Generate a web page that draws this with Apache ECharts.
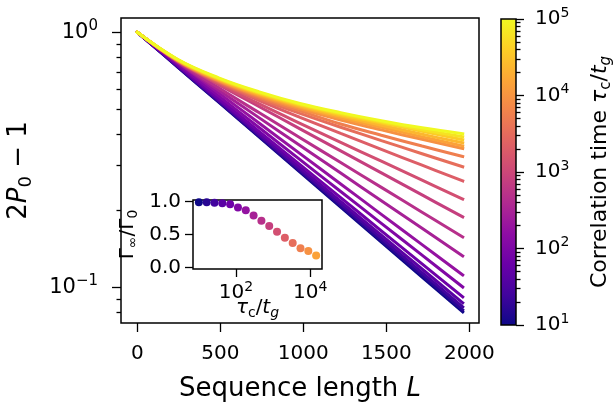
<!DOCTYPE html>
<html><head><meta charset="utf-8">
<script src="https://cdn.jsdelivr.net/npm/echarts@6/dist/echarts.min.js"></script>
<style>html,body{margin:0;padding:0;background:#fff}#c{width:613px;height:405px}</style>
</head><body><div id="c"></div>
<script>
// Sequence lengths at which each curve was read
const seqLength = [0, 245, 490, 735, 980, 1225, 1470, 1715, 1960];
// Correlation times tau_c/t_g (one curve each)
const corrTime = [10, 16.24, 26.37, 42.81, 69.52, 112.9, 183.3, 297.6, 483.3, 784.8,
  1274, 2069, 3360, 5456, 8859, 14384, 23357, 37927, 61585, 100000];
// 2P0-1 for each correlation time, read at seqLength
const decay = [
  [1, 0.7293, 0.5318, 0.3878, 0.2828, 0.2063, 0.1504, 0.1097, 0.0800],
  [1, 0.7310, 0.5343, 0.3905, 0.2855, 0.2086, 0.1525, 0.1115, 0.0815],
  [1, 0.7335, 0.5379, 0.3946, 0.2894, 0.2123, 0.1557, 0.1142, 0.0837],
  [1, 0.7369, 0.5429, 0.4001, 0.2948, 0.2172, 0.1600, 0.1179, 0.0869],
  [1, 0.7417, 0.5501, 0.4081, 0.3027, 0.2245, 0.1665, 0.1235, 0.0916],
  [1, 0.7501, 0.5626, 0.4221, 0.3166, 0.2375, 0.1781, 0.1336, 0.1002],
  [1, 0.7603, 0.5781, 0.4396, 0.3342, 0.2541, 0.1932, 0.1469, 0.1117],
  [1, 0.7617, 0.5927, 0.4617, 0.3598, 0.2804, 0.2185, 0.1703, 0.1327],
  [1, 0.7645, 0.6056, 0.4832, 0.3859, 0.3084, 0.2465, 0.1970, 0.1574],
  [1, 0.7675, 0.6230, 0.5105, 0.4182, 0.3427, 0.2809, 0.2302, 0.1887],
  [1, 0.7700, 0.6280, 0.5237, 0.4397, 0.3703, 0.3121, 0.2631, 0.2218],
  [1, 0.7715, 0.6340, 0.5401, 0.4642, 0.4011, 0.3474, 0.3011, 0.2612],
  [1, 0.7725, 0.6390, 0.5480, 0.4811, 0.4244, 0.3761, 0.3340, 0.2968],
  [1, 0.7735, 0.6430, 0.5560, 0.4920, 0.4367, 0.3946, 0.3580, 0.3257],
  [1, 0.7745, 0.6460, 0.5620, 0.5010, 0.4532, 0.4142, 0.3804, 0.3502],
  [1, 0.7760, 0.6500, 0.5670, 0.5080, 0.4620, 0.4240, 0.3890, 0.3585],
  [1, 0.7780, 0.6540, 0.5720, 0.5130, 0.4690, 0.4320, 0.3980, 0.3686],
  [1, 0.7790, 0.6570, 0.5760, 0.5180, 0.4750, 0.4410, 0.4090, 0.3790],
  [1, 0.7805, 0.6600, 0.5800, 0.5220, 0.4800, 0.4460, 0.4150, 0.3897],
  [1, 0.7820, 0.6630, 0.5840, 0.5260, 0.4840, 0.4500, 0.4220, 0.4000]
];
// Inset: Gamma_inf / Gamma_0 for the first 16 correlation times
const insetTau = [10, 16.24, 26.37, 42.81, 69.52, 112.9, 183.3, 297.6, 483.3, 784.8,
  1274, 2069, 3360, 5456, 8859, 14384];
const rateRatio = [0.99, 0.99, 0.985, 0.975, 0.96, 0.91, 0.87, 0.79, 0.71, 0.63,
  0.54, 0.45, 0.37, 0.29, 0.25, 0.18];
// Tick values
const xTicks = [0, 500, 1000, 1500, 2000];
const yMajor = [0.1, 1];
const yMinor = [0.08, 0.09, 0.2, 0.3, 0.4, 0.5, 0.6, 0.7, 0.8, 0.9];
const insetXTicks = [100, 10000];
const insetYTicks = [0, 0.5, 1];
const cbMajor = [10, 100, 1000, 10000, 100000];
const cbMinor = [20,30,40,50,60,70,80,90,200,300,400,500,600,700,800,900,
  2000,3000,4000,5000,6000,7000,8000,9000,20000,30000,40000,50000,60000,70000,80000,90000];

const plasmaStops = ['#0d0887','#41049d','#6a00a8','#8f0da4','#b12a90','#cc4778',
  '#e16462','#f2844b','#fca636','#fcce25','#f0f921'];
function hexRgb(h){return [1,3,5].map(i=>parseInt(h.substr(i,2),16));}
function plasma(f){
  f = Math.max(0, Math.min(1, f));
  const p = f * 10, i = Math.min(9, Math.floor(p)), t = p - i;
  const a = hexRgb(plasmaStops[i]), b = hexRgb(plasmaStops[i+1]);
  return 'rgb(' + a.map((v,k)=>Math.round(v + (b[k]-v)*t)).join(',') + ')';
}
const tauColor = t => plasma((Math.log10(t) - 1) / 4);

const FF = 'DejaVu Sans';
const K = '#000';
function supRich(base, lh){
  return { b:{fontSize:base, fontFamily:FF, color:K, lineHeight:lh},
           s:{fontSize:Math.round(base*0.7), fontFamily:FF, color:K, lineHeight:Math.round(base*0.7), verticalAlign:'top'} };
}
function nameRich(base){
  const sf = Math.round(base*0.7);
  return { i:{fontSize:base, fontFamily:FF, fontStyle:'italic', color:K},
           sub:{fontSize:sf, fontFamily:FF, color:K, lineHeight:sf, verticalAlign:'bottom'},
           isub:{fontSize:sf, fontFamily:FF, fontStyle:'italic', color:K, lineHeight:sf, verticalAlign:'bottom'} };
}
const powLabel = v => '{b|10}{s|' + String(Math.round(Math.log10(v))).replace('-', '\u2212') + '}';
const tickStyle = (len) => ({show:true, length:len, lineStyle:{color:K, width:1.3}});
const noLine = {show:false, onZero:false};

const lineSeries = corrTime.map((t, i) => ({
  type:'line', xAxisIndex:0, yAxisIndex:0, z:2,
  data: seqLength.map((L, j) => [L, decay[i][j]]),
  smooth:0.4, symbol:'none', silent:true,
  lineStyle:{color:tauColor(t), width:3, cap:'square'}
}));

const option = {
  animation:false,
  backgroundColor:'#fff',
  grid:[
    {left:121, top:18, width:358, height:305, show:true, borderColor:K, borderWidth:1.5,
     backgroundColor:'transparent', outerBoundsMode:'none', containLabel:false},
    {left:193, top:200, width:129, height:69, show:true, borderColor:K, borderWidth:1.5,
     backgroundColor:'#fff', z:10, outerBoundsMode:'none', containLabel:false},
    {left:501, top:19, width:15, height:306, show:true, borderColor:K, borderWidth:1.5,
     outerBoundsMode:'none', containLabel:false,
     backgroundColor:{type:'linear', x:0, y:1, x2:0, y2:0,
       colorStops: plasmaStops.map((c,i)=>({offset:i/10, color:c}))}}
  ],
  xAxis:[
    {type:'value', gridIndex:0, min:-98, max:2058,
     axisLine:noLine, splitLine:{show:false},
     axisTick:Object.assign(tickStyle(9), {customValues:xTicks}),
     axisLabel:{customValues:xTicks, formatter:v=>String(v), margin:21, fontSize:20, fontFamily:FF, color:K},
     name:'Sequence length {i|L}', nameLocation:'middle', nameGap:53, nameMoveOverlap:false,
     nameTextStyle:{fontSize:26, fontFamily:FF, color:K, rich:nameRich(26)}},
    {type:'log', gridIndex:1, min:6.95, max:20700, z:11,
     axisLine:noLine, splitLine:{show:false},
     axisTick:Object.assign(tickStyle(8), {customValues:insetXTicks}),
     axisLabel:{customValues:insetXTicks, formatter:powLabel, margin:11, rich:supRich(20, 26)},
     name:'{i|τ}{sub|c}/{i|t}{isub|g}', nameLocation:'middle', nameGap:26, nameMoveOverlap:false,
     nameTextStyle:{fontSize:20, fontFamily:FF, color:K, lineHeight:25, rich:nameRich(20)}},
    {type:'value', gridIndex:2, min:0, max:1, show:false}
  ],
  yAxis:[
    {type:'log', gridIndex:0, min:0.0724, max:1.138, position:'left',
     axisLine:noLine, splitLine:{show:false},
     axisTick:Object.assign(tickStyle(9), {customValues:yMajor}),
     axisLabel:{customValues:yMajor, formatter:powLabel, margin:23, rich:supRich(21, 27)},
     name:'2{i|P}{sub|0} \u2212 1', nameLocation:'middle', nameGap:86, nameRotate:90, nameMoveOverlap:false,
     nameTextStyle:{fontSize:26, fontFamily:FF, color:K, lineHeight:32, rich:nameRich(26)}},
    {type:'log', gridIndex:0, min:0.0724, max:1.138, position:'left',
     axisLine:noLine, splitLine:{show:false}, axisLabel:{show:false},
     axisTick:Object.assign(tickStyle(4.5), {customValues:yMinor})},
    {type:'value', gridIndex:1, min:-0.025, max:1.025, position:'left', z:11,
     axisLine:noLine, splitLine:{show:false},
     axisTick:Object.assign(tickStyle(8), {customValues:insetYTicks}),
     axisLabel:{customValues:insetYTicks, formatter:v=>v.toFixed(1), margin:12, fontSize:20, fontFamily:FF, color:K},
     name:'Γ{sub|∞}/Γ{sub|0}', nameLocation:'middle', nameGap:53, nameRotate:90, nameMoveOverlap:false,
     nameTextStyle:{fontSize:20, fontFamily:FF, color:K, lineHeight:25, rich:nameRich(20)}},
    {type:'log', gridIndex:2, min:10, max:100000, position:'right',
     axisLine:noLine, splitLine:{show:false},
     axisTick:Object.assign(tickStyle(8), {customValues:cbMajor}),
     axisLabel:{customValues:cbMajor, formatter:powLabel, margin:19, rich:supRich(20, 26)},
     name:'Correlation time {i|τ}{sub|c}/{i|t}{isub|g}', nameLocation:'middle', nameGap:70, nameRotate:90, nameMoveOverlap:false,
     nameTextStyle:{fontSize:22, fontFamily:FF, color:K, lineHeight:28, rich:nameRich(22)}},
    {type:'log', gridIndex:2, min:10, max:100000, position:'right',
     axisLine:noLine, splitLine:{show:false}, axisLabel:{show:false},
     axisTick:Object.assign(tickStyle(4.5), {customValues:cbMinor})}
  ],
  series: lineSeries.concat([{
    type:'scatter', xAxisIndex:1, yAxisIndex:2, z:12, silent:true,
    symbol:'circle', symbolSize:8,
    data: insetTau.map((t,i)=>({value:[t, rateRatio[i]], itemStyle:{color:tauColor(t), opacity:1}}))
  }])
};
const chart = echarts.init(document.getElementById('c'), null, {renderer:'canvas'});
chart.setOption(option);
</script></body></html>
